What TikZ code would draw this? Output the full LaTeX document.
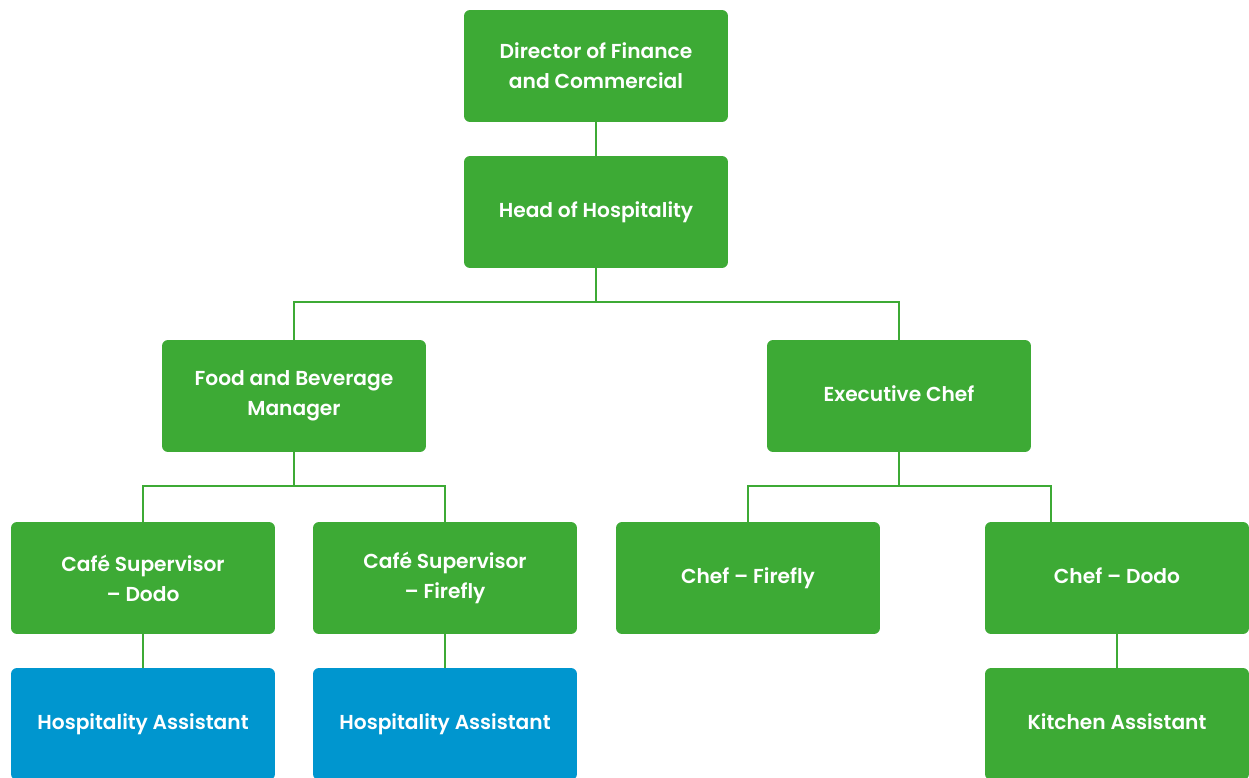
\documentclass[tikz,border=0pt]{standalone}
\usepackage{fontspec}
\setmainfont{Poppins}[BoldFont={Poppins SemiBold}]
\usetikzlibrary{positioning}
\definecolor{boxgreen}{HTML}{3DAA35}
\definecolor{boxblue}{HTML}{0096CF}
\tikzset{
	role/.style={rectangle, rounded corners=6*0.02cm, fill=boxgreen, text=white,
		minimum width=5.28cm, minimum height=2.24cm, align=center,
		font=\fontsize{11.5}{17}\selectfont\bfseries},
	assist/.style={role, fill=boxblue},
	link/.style={draw=boxgreen, line width=1.1pt}
}

\begin{document}
\begin{tikzpicture}[x=0.02cm, y=-0.02cm]
			\useasboundingbox (0,0) rectangle (1249,778);

			% top of the chart
			\node[role] (director) at (596, 66) {Director of Finance\\and Commercial};
			\node[role] (head) at (596, 212) {\strut Head of Hospitality};

			% managers
			\node[role] (fandb) at (294, 396) {Food and Beverage\\Manager};
			\node[role] (exec) at (899, 396) {\strut Executive Chef};

			% supervisors and chefs
			\node[role] (cafedodo) at (143, 578) {Café Supervisor\\– Dodo};
			\node[role] (cafefirefly) at (445, 578) {Café Supervisor\\– Firefly};
			\node[role] (cheffirefly) at (748, 578) {\strut Chef – Firefly};
			\node[role] (chefdodo) at (1117, 578) {\strut Chef – Dodo};

			% assistants
			\node[assist] (hadodo) at (143, 724) {\strut Hospitality Assistant};
			\node[assist] (hafirefly) at (445, 724) {\strut Hospitality Assistant};
			\node[role] (kitchen) at (1117, 724) {\strut Kitchen Assistant};

			\coordinate (dodoin) at (1051, 522);

			% the lines between the boxes
			\draw[link] (director) -- (head);
			\draw[link] (head.south) -- ++(0,34) -| (fandb.north);
			\draw[link] (head.south) -- ++(0,34) -| (exec.north);
			\draw[link] (fandb.south) -- ++(0,34) -| (cafedodo.north);
			\draw[link] (fandb.south) -- ++(0,34) -| (cafefirefly.north);
			\draw[link] (exec.south) -- ++(0,34) -| (cheffirefly.north);
			\draw[link] (exec.south) -- ++(0,34) -| (dodoin);
			\draw[link] (cafedodo) -- (hadodo);
			\draw[link] (cafefirefly) -- (hafirefly);
			\draw[link] (chefdodo) -- (kitchen);
\end{tikzpicture}
\end{document}
